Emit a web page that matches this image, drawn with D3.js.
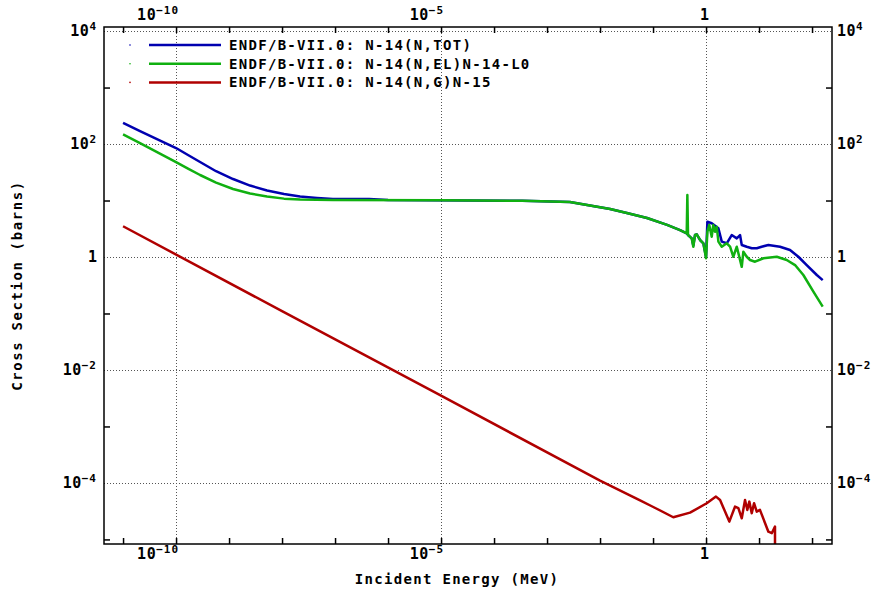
<!DOCTYPE html>
<html>
<head>
<meta charset="utf-8">
<script src="https://cdn.jsdelivr.net/npm/d3@7"></script>
<style>
  body { margin: 0; background: #fff; }
  text { font-family: "DejaVu Sans Mono", monospace; font-weight: bold; fill: #000; }
</style>
</head>
<body>
<div id="container"></div>
<script>
/* CONSTANTS AND GLOBALS */
const width = 882,
    height = 590,
    margin = { top: 27, right: 50, bottom: 46, left: 104 };

// [energy (MeV), cross section (barns)]
const totalXS = [
    [1e-11, 238], [2.09e-11, 170], [4.57e-11, 120], [1e-10, 85], [1.68e-10, 64], [2.84e-10, 48],
    [5.69e-10, 33], [1.19e-9, 24], [2.49e-9, 18.4], [5.21e-9, 15.0], [1.09e-8, 13.0],
    [2.19e-8, 11.8], [4.57e-8, 11.1], [9.1e-8, 10.6], [4.4e-7, 10.6], [1e-6, 10.2],
    [3.4e-4, 9.9], [2.7e-3, 9.4], [5.7e-3, 8.3], [0.0155, 7.1], [0.032, 6.0], [0.077, 4.9],
    [0.184, 3.7], [0.323, 3.0], [0.432, 2.63], [0.457, 2.45], [0.537, 2.14], [0.575, 1.6],
    [0.62, 2.45], [0.668, 2.52], [0.77, 2.0], [0.89, 1.75], [1.0, 1.0], [1.06, 4.2],
    [1.28, 3.95], [1.71, 3.22], [1.98, 1.87], [2.46, 1.75], [3.05, 2.45], [3.8, 2.14],
    [4.38, 2.45], [4.72, 1.63], [5.86, 1.52], [7.28, 1.43], [9.05, 1.43], [11.2, 1.52],
    [15.0, 1.63], [24.9, 1.52], [38.4, 1.33], [55.2, 1.01], [79.4, 0.72], [123, 0.48],
    [159, 0.39]
];

const elasticXS = [
    [1e-11, 148], [2.09e-11, 104], [4.57e-11, 70.7], [1e-10, 48], [1.68e-10, 36.8],
    [2.84e-10, 28.3], [5.69e-10, 20.8], [1.19e-9, 16.0], [2.49e-9, 13.3], [5.21e-9, 11.8],
    [1.09e-8, 10.8], [2.19e-8, 10.4], [9.1e-8, 10.2], [1e-5, 10.1], [3.4e-4, 9.9],
    [2.7e-3, 9.4], [5.7e-3, 8.3], [0.0155, 7.1], [0.032, 6.0], [0.077, 4.9], [0.184, 3.7],
    [0.323, 3.0], [0.432, 2.63], [0.444, 12.5], [0.457, 2.45], [0.537, 2.14], [0.575, 1.52],
    [0.62, 2.45], [0.668, 2.52], [0.77, 2.0], [0.89, 1.75], [1.0, 0.95], [1.06, 2.8],
    [1.15, 3.7], [1.28, 2.29], [1.37, 3.7], [1.48, 2.8], [1.59, 3.44], [1.71, 1.87],
    [1.98, 1.52], [2.46, 1.75], [2.84, 1.52], [3.27, 1.01], [3.8, 1.52], [4.72, 0.67],
    [5.06, 1.24], [5.86, 1.01], [6.76, 0.885], [8.41, 0.826], [12.1, 0.95], [21.6, 1.01],
    [33.3, 0.885], [47.8, 0.72], [68.5, 0.48], [106, 0.243], [159, 0.132]
];

const captureXS = [
    [1e-11, 3.5], [1e-8, 0.11], [1e-5, 3.5e-3], [1e-2, 1.1e-4], [0.0569, 4.9e-5],
    [0.101, 3.75e-5], [0.241, 2.47e-5], [0.499, 2.98e-5], [1.03, 4.37e-5], [1.54, 5.73e-5],
    [1.84, 5.0e-5], [2.75, 2.07e-5], [3.52, 3.81e-5], [4.07, 3.57e-5], [4.72, 2.37e-5],
    [5.44, 5.0e-5], [6.01, 3.33e-5], [6.56, 4.67e-5], [7.28, 2.91e-5], [8.05, 4.37e-5],
    [9.05, 3.1e-5], [10.4, 3.33e-5], [15.0, 1.37e-5], [17.4, 1.29e-5], [20.0, 1.69e-5],
    [20.01, 5e-6]
];

const seriesNames = [
    "ENDF/B-VII.0: N-14(N,TOT)",
    "ENDF/B-VII.0: N-14(N,EL)N-14-L0",
    "ENDF/B-VII.0: N-14(N,G)N-15"
];
const seriesColors = ["#0000b0", "#10b010", "#b00000"];

const xDomain = [4.37e-12, 238];
const yDomain = [8.3e-6, 1.18e4];
const xGridExp = [-10, -5, 0];
const yGridExp = [4, 2, 0, -2, -4];
const xTickExp = d3.range(-11, 3);
const yTickExp = [3, 1, -1, -3, -5];

/* SVG */
const svg = d3.select("#container")
    .append("svg")
    .attr("width", width)
    .attr("height", height);

const x0 = margin.left, x1 = width - margin.right,
    y0 = margin.top, y1 = height - margin.bottom;

// SCALES
const xScale = d3.scaleLog().domain(xDomain).range([x0, x1]);
const yScale = d3.scaleLog().domain(yDomain).range([y1, y0]);

// GRID (dotted)
svg.append("g")
    .selectAll("line")
    .data(xGridExp)
    .join("line")
    .attr("x1", d => Math.round(xScale(Math.pow(10, d))) + 0.5)
    .attr("x2", d => Math.round(xScale(Math.pow(10, d))) + 0.5)
    .attr("y1", y0)
    .attr("y2", y1)
    .attr("stroke", "#555")
    .attr("stroke-width", 1)
    .attr("stroke-dasharray", "1,2");

svg.append("g")
    .selectAll("line")
    .data(yGridExp)
    .join("line")
    .attr("y1", d => Math.round(yScale(Math.pow(10, d))) + 0.5)
    .attr("y2", d => Math.round(yScale(Math.pow(10, d))) + 0.5)
    .attr("x1", x0)
    .attr("x2", x1)
    .attr("stroke", "#555")
    .attr("stroke-width", 1)
    .attr("stroke-dasharray", "1,2");

// AXES (ticks only, inward)
const xVals = xTickExp.map(e => Math.pow(10, e));
const yVals = yTickExp.map(e => Math.pow(10, e));

svg.append("g")
    .attr("transform", "translate(0," + y1 + ")")
    .call(d3.axisBottom(xScale).tickValues(xVals).tickFormat("").tickSizeInner(-6).tickSizeOuter(0))
    .call(g => g.select(".domain").remove());
svg.append("g")
    .attr("transform", "translate(0," + y0 + ")")
    .call(d3.axisTop(xScale).tickValues(xVals).tickFormat("").tickSizeInner(-6).tickSizeOuter(0))
    .call(g => g.select(".domain").remove());
svg.append("g")
    .attr("transform", "translate(" + x0 + ",0)")
    .call(d3.axisLeft(yScale).tickValues(yVals).tickFormat("").tickSizeInner(-6).tickSizeOuter(0))
    .call(g => g.select(".domain").remove());
svg.append("g")
    .attr("transform", "translate(" + x1 + ",0)")
    .call(d3.axisRight(yScale).tickValues(yVals).tickFormat("").tickSizeInner(-6).tickSizeOuter(0))
    .call(g => g.select(".domain").remove());
svg.selectAll(".tick line").attr("stroke", "#000").attr("stroke-width", 1.5);

// TICK LABELS
function powLabel(sel, e) {
    if (e === 0) {
        sel.append("tspan").style("font-size", "15px").text("1");
        return;
    }
    sel.append("tspan").style("font-size", "15px").attr("letter-spacing", "0.5px").text("10");
    sel.append("tspan")
        .style("font-size", "11px")
        .attr("dy", -6)
        .attr("letter-spacing", "1px")
        .text(e < 0 ? "\u2212" + Math.abs(e) : String(e));
}

xGridExp.forEach(e => {
    const px = xScale(Math.pow(10, e)) + 3;
    [20, 559].forEach(py => {
        svg.append("text")
            .attr("x", px)
            .attr("y", py)
            .attr("text-anchor", "end")
            .call(t => powLabel(t, e));
    });
});

yGridExp.forEach(e => {
    const py = yScale(Math.pow(10, e)) + 5;
    svg.append("text")
        .attr("x", 97)
        .attr("y", py)
        .attr("text-anchor", "end")
        .call(t => powLabel(t, e));
    svg.append("text")
        .attr("x", x1 + 5)
        .attr("y", py)
        .attr("text-anchor", "start")
        .call(t => powLabel(t, e));
});

// LABELS
svg.append("text")
    .attr("x", 457)
    .attr("y", 584)
    .attr("text-anchor", "middle")
    .style("font-size", "14px")
    .attr("letter-spacing", "1.3px")
    .text("Incident Energy (MeV)");

svg.append("text")
    .attr("transform", "translate(22," + ((y0 + y1) / 2) + ") rotate(-90)")
    .attr("text-anchor", "middle")
    .style("font-size", "14px")
    .attr("letter-spacing", "1.6px")
    .text("Cross Section (barns)");

// LINES
svg.append("clipPath")
    .attr("id", "plotClip")
    .append("rect")
    .attr("x", x0)
    .attr("y", y0)
    .attr("width", x1 - x0)
    .attr("height", y1 - y0);

const line = d3.line()
    .x(d => xScale(d[0]))
    .y(d => yScale(d[1]));

const plot = svg.append("g").attr("clip-path", "url(#plotClip)");
[totalXS, elasticXS, captureXS].forEach((data, i) => {
    plot.append("path")
        .datum(data)
        .attr("d", line)
        .attr("fill", "none")
        .attr("stroke", seriesColors[i])
        .attr("stroke-width", 2.5)
        .attr("stroke-linejoin", "round");
});

// LEGEND
const legend = svg.append("g")
    .selectAll("g")
    .data(seriesNames)
    .join("g")
    .attr("transform", (d, i) => "translate(0," + (45 + i * 18.7) + ")");

legend.append("circle")
    .attr("cx", 130)
    .attr("cy", 0)
    .attr("r", 0.8)
    .attr("fill", (d, i) => seriesColors[i]);

legend.append("line")
    .attr("x1", 149)
    .attr("x2", 221)
    .attr("stroke", (d, i) => seriesColors[i])
    .attr("stroke-width", 2.5);

legend.append("text")
    .attr("x", 229)
    .attr("y", 5)
    .style("font-size", "14px")
    .attr("letter-spacing", "1.3px")
    .text(d => d);

// FRAME
svg.append("rect")
    .attr("x", x0)
    .attr("y", y0)
    .attr("width", x1 - x0)
    .attr("height", y1 - y0)
    .attr("fill", "none")
    .attr("stroke", "#000")
    .attr("stroke-width", 1.5);
</script>
</body>
</html>
